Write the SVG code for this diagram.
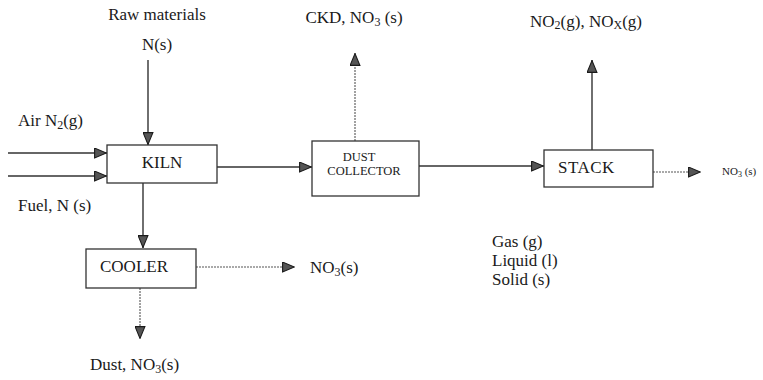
<svg xmlns="http://www.w3.org/2000/svg" width="763" height="380" viewBox="0 0 763 380">
<style>
text{font-family:"Liberation Serif","Times New Roman",serif;fill:#1a1a1a}
.lbl{font-size:17px}
.node rect{fill:#fff;stroke:#333;stroke-width:1.3}
.nt{font-size:17px}
.small{font-size:12.5px}
.c{stroke:#333;stroke-width:1.4;fill:none}
.d{stroke:#555;stroke-width:1.1;stroke-dasharray:2 1;fill:none}
</style>
<defs>
<marker id="ah" viewBox="0 0 13 11" refX="13" refY="5.5" markerWidth="13" markerHeight="11" markerUnits="userSpaceOnUse" orient="auto">
<path d="M0.6,0.6 L12.4,5.5 L0.6,10.4 Z" fill="#555" stroke="#1a1a1a" stroke-width="1.1"/>
</marker>
</defs>
<rect width="763" height="380" fill="#fff"/>
<g id="connectors">
<line class="c" x1="148" y1="60" x2="148" y2="145" marker-end="url(#ah)"/>
<line class="c" x1="8" y1="153" x2="107" y2="153" marker-end="url(#ah)"/>
<line class="c" x1="8" y1="176" x2="107" y2="176" marker-end="url(#ah)"/>
<line class="c" x1="217" y1="167" x2="312" y2="167" marker-end="url(#ah)"/>
<line class="c" x1="143" y1="183" x2="143" y2="248" marker-end="url(#ah)"/>
<line class="d" x1="355" y1="141" x2="355" y2="53" marker-end="url(#ah)"/>
<line class="c" x1="419" y1="166" x2="544" y2="166" marker-end="url(#ah)"/>
<line class="c" x1="592" y1="150" x2="592" y2="60" marker-end="url(#ah)"/>
<line class="d" x1="653" y1="172" x2="701" y2="172" marker-end="url(#ah)"/>
<line class="d" x1="196" y1="267" x2="295" y2="267" marker-end="url(#ah)"/>
<line class="d" x1="140" y1="288" x2="140" y2="339" marker-end="url(#ah)"/>
</g>
<g id="kiln" class="node">
<rect x="107" y="145" width="110" height="38"/>
<text class="nt" x="162" y="168" text-anchor="middle">KILN</text>
</g>
<g id="dust-collector" class="node">
<rect x="312" y="141" width="107" height="55"/>
<text class="small" x="359" y="161" text-anchor="middle">DUST</text>
<text class="small" x="364" y="175" text-anchor="middle">COLLECTOR</text>
</g>
<g id="stack" class="node">
<rect x="544" y="150" width="109" height="37"/>
<text class="nt" x="558" y="173" letter-spacing="0.5">STACK</text>
</g>
<g id="cooler" class="node">
<rect x="86" y="249" width="110" height="39"/>
<text class="nt" x="100" y="272">COOLER</text>
</g>
<g id="labels">
<text class="lbl" x="157" y="20" text-anchor="middle">Raw materials</text>
<text class="lbl" x="157" y="50" text-anchor="middle">N(s)</text>
<text class="lbl" x="18" y="126">Air N<tspan font-size="12" dy="3">2</tspan><tspan dy="-3">(g)</tspan></text>
<text class="lbl" x="18" y="211">Fuel, N (s)</text>
<text class="lbl" x="354" y="23" text-anchor="middle">CKD, NO<tspan font-size="12" dy="3">3</tspan><tspan dy="-3"> (s)</tspan></text>
<text class="lbl" x="530" y="27">NO<tspan font-size="12" dy="2">2</tspan><tspan dy="-2">(g), NO</tspan><tspan font-size="12" dy="2">X</tspan><tspan dy="-2">(g)</tspan></text>
<text x="722" y="175" font-size="11">NO<tspan font-size="8" dy="2">3</tspan><tspan dy="-2"> (s)</tspan></text>
<text class="lbl" x="310" y="273">NO<tspan font-size="12" dy="3">3</tspan><tspan dy="-3">(s)</tspan></text>
<text class="lbl" x="90" y="370">Dust, NO<tspan font-size="12" dy="3">3</tspan><tspan dy="-3">(s)</tspan></text>
<text class="lbl" x="492" y="247">Gas (g)</text>
<text class="lbl" x="492" y="266">Liquid (l)</text>
<text class="lbl" x="492" y="285">Solid (s)</text>
</g>
</svg>
